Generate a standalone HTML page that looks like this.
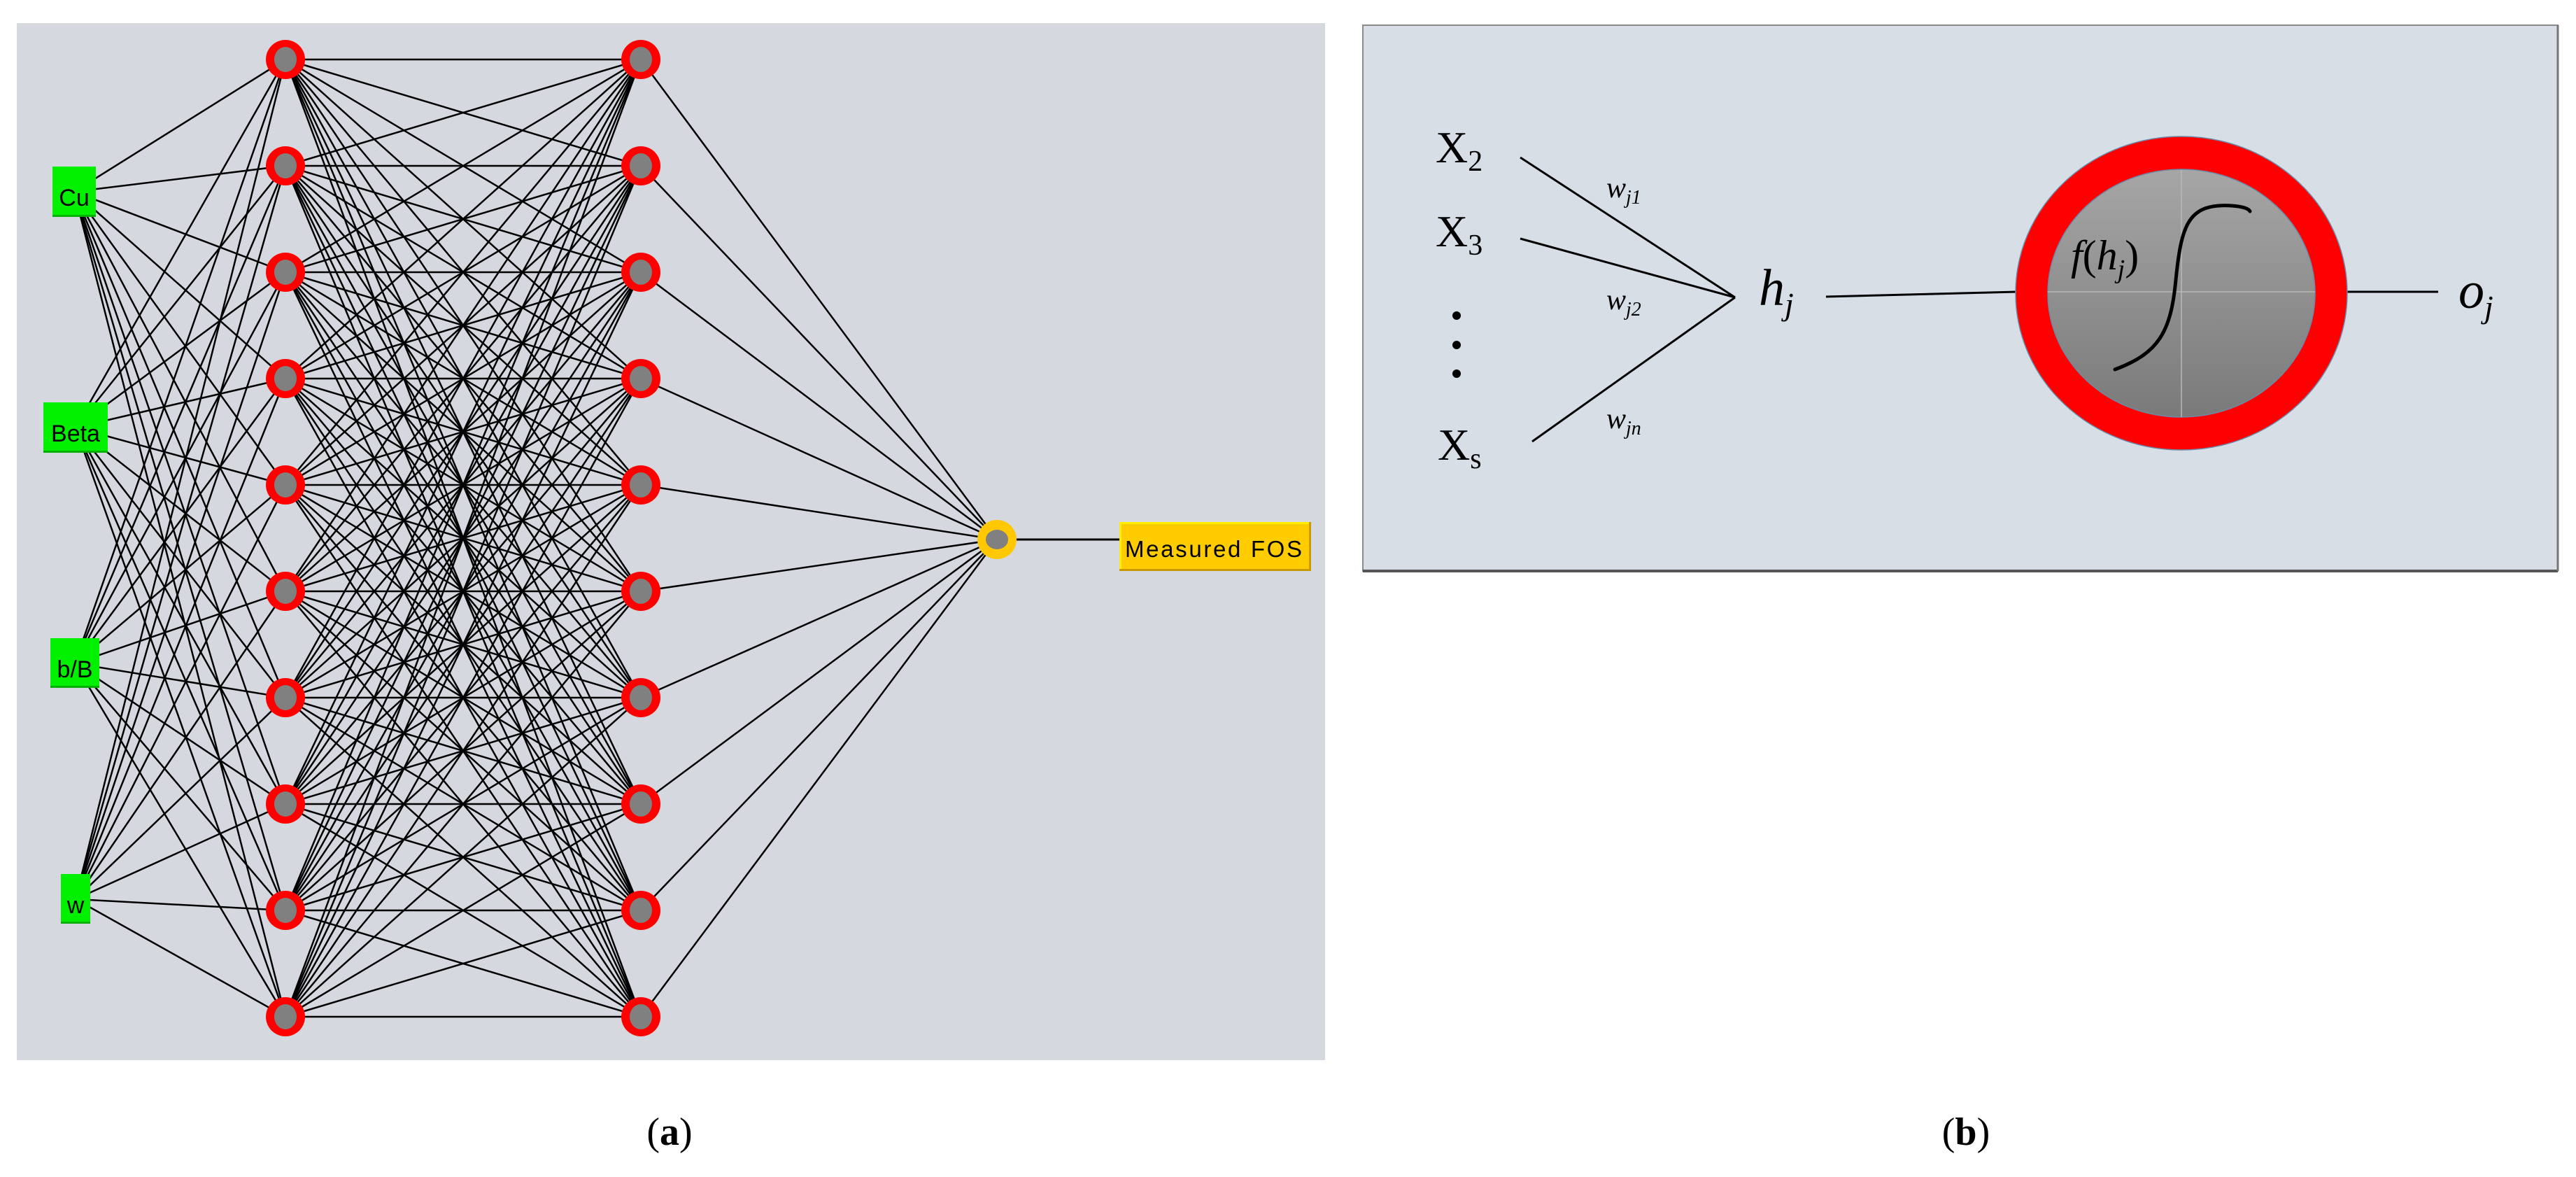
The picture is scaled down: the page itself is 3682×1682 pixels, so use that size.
<!DOCTYPE html>
<html><head><meta charset="utf-8"><style>
html,body{margin:0;padding:0;background:#fff;width:3682px;height:1682px;overflow:hidden}
svg{position:absolute;left:0;top:0}
</style></head><body>
<svg id="s" width="3682" height="1682" viewBox="0 0 3682 1682" xmlns="http://www.w3.org/2000/svg">
<defs>
<linearGradient id="g" x1="0" y1="0" x2="0" y2="1"><stop offset="0" stop-color="#a6a6a6"/><stop offset="1" stop-color="#7a7a7a"/></linearGradient>
</defs>
<rect x="24" y="33" width="1870" height="1482" fill="#d5d8df"/>
<g id="lines" stroke="#000" stroke-width="2.5" fill="none"></g>
<g id="nodes"></g>
<line x1="1453" y1="771" x2="1600" y2="771" stroke="#000" stroke-width="3"/>
<ellipse cx="1425" cy="771" rx="28" ry="28" fill="#ffc800"/>
<ellipse cx="1425" cy="771" rx="16" ry="14" fill="#808080"/>
<rect x="1600" y="746" width="274" height="70" fill="#ffcc00"/>
<rect x="1600" y="746" width="274" height="3" fill="#ffee00"/>
<rect x="1600" y="746" width="3" height="70" fill="#ffee00"/>
<rect x="1600" y="813" width="274" height="3" fill="#c99a00"/>
<rect x="1871" y="746" width="3" height="70" fill="#c99a00"/>
<text x="1608" y="796" font-family="Liberation Sans, sans-serif" font-size="33" letter-spacing="2" textLength="255" lengthAdjust="spacing" fill="#000">Measured FOS</text>
<g font-family="Liberation Sans, sans-serif" font-size="34" fill="#000" text-anchor="middle">
<rect x="75" y="238" width="62" height="72" fill="#00f000"/><rect x="75" y="307" width="62" height="3" fill="#00b000"/><text x="106" y="294">Cu</text>
<rect x="62" y="575" width="92" height="72" fill="#00f000"/><rect x="62" y="644" width="92" height="3" fill="#00b000"/><text x="108" y="631">Beta</text>
<rect x="72" y="912" width="70" height="71" fill="#00f000"/><rect x="72" y="980" width="70" height="3" fill="#00b000"/><text x="107" y="968">b/B</text>
<rect x="87" y="1249" width="42" height="71" fill="#00f000"/><rect x="87" y="1317" width="42" height="3" fill="#00b000"/><text x="108" y="1305">w</text>
</g>
<rect x="1948" y="36" width="1708" height="780" fill="#d7dee6" stroke="#8a8a8a" stroke-width="2"/>
<line x1="1948" y1="816" x2="3656" y2="816" stroke="#555" stroke-width="4"/>
<line x1="3656" y1="36" x2="3656" y2="816" stroke="#777" stroke-width="3"/>
<g font-family="Liberation Serif, serif" fill="#000">
<text x="2052" y="232" font-size="64">X<tspan font-size="42" dy="12">2</tspan></text>
<text x="2052" y="352" font-size="64">X<tspan font-size="42" dy="12">3</tspan></text>
<text x="2055" y="657" font-size="64">X<tspan font-size="42" dy="12">s</tspan></text>
<text x="2296" y="282" font-size="42" font-style="italic">w<tspan font-size="28" dy="9">j1</tspan></text>
<text x="2296" y="442" font-size="42" font-style="italic">w<tspan font-size="28" dy="9">j2</tspan></text>
<text x="2296" y="612" font-size="42" font-style="italic">w<tspan font-size="28" dy="9">jn</tspan></text>
<text x="2514" y="436" font-size="74" font-style="italic">h<tspan font-size="46" dy="14">j</tspan></text>
<text x="3514" y="440" font-size="74" font-style="italic">o<tspan font-size="46" dy="14">j</tspan></text>
</g>
<circle cx="2082" cy="451" r="6" fill="#000"/><circle cx="2082" cy="493" r="6" fill="#000"/><circle cx="2082" cy="534" r="6" fill="#000"/>
<g stroke="#000" stroke-width="3" fill="none">
<line x1="2173" y1="225" x2="2480" y2="425"/>
<line x1="2173" y1="341" x2="2480" y2="425"/>
<line x1="2190" y1="631" x2="2480" y2="425"/>
<line x1="2610" y1="424" x2="2883" y2="417"/>
<line x1="3355" y1="417" x2="3485" y2="417"/>
</g>
<ellipse cx="3118" cy="419" rx="237" ry="224" fill="#ff0000" stroke="#6a8aa8" stroke-width="1.5"/>
<ellipse cx="3118" cy="419" rx="191" ry="177" fill="url(#g)" stroke="#6a8aa8" stroke-width="1.5"/>
<line x1="2927" y1="417" x2="3309" y2="417" stroke="#b8b8b8" stroke-width="1.5"/>
<line x1="3118" y1="243" x2="3118" y2="596" stroke="#b8b8b8" stroke-width="1.5"/>
<path d="M3023 528 C3085 505 3103 475 3110 400 C3118 320 3128 290 3190 294 C3205 295 3214 298 3216 302" stroke="#000" stroke-width="5" fill="none" stroke-linecap="round"/>
<text x="2960" y="385" font-family="Liberation Serif, serif" font-style="italic" font-size="60" fill="#000">f<tspan font-style="normal">(</tspan>h<tspan font-size="38" dy="12">j</tspan><tspan font-style="normal" dy="-12">)</tspan></text>
<g font-family="Liberation Serif, serif" font-size="56" fill="#000" text-anchor="middle">
<text x="957" y="1636">(<tspan font-weight="bold">a</tspan>)</text>
<text x="2810" y="1636">(<tspan font-weight="bold">b</tspan>)</text>
</g>
</svg>
<script>
var NS="http://www.w3.org/2000/svg";
var L=document.getElementById("lines"),N=document.getElementById("nodes");
function ln(a,b,c,d){var e=document.createElementNS(NS,"line");e.setAttribute("x1",a);e.setAttribute("y1",b);e.setAttribute("x2",c);e.setAttribute("y2",d);L.appendChild(e);}
var ins=[[106,274],[108,611],[107,948],[108,1285]];
var ys=[];for(var i=0;i<10;i++)ys.push(85+152*i);
var x1=408,x2=916;
ins.forEach(function(p){ys.forEach(function(y){ln(p[0],p[1],x1,y);});});
ys.forEach(function(a){ys.forEach(function(b){ln(x1,a,x2,b);});});
ys.forEach(function(y){ln(x2,y,1425,771);});
function node(x,y){var c=document.createElementNS(NS,"ellipse");c.setAttribute("cx",x);c.setAttribute("cy",y);c.setAttribute("rx",28);c.setAttribute("ry",28);c.setAttribute("fill","#ff0000");N.appendChild(c);
var d=document.createElementNS(NS,"ellipse");d.setAttribute("cx",x);d.setAttribute("cy",y);d.setAttribute("rx",16);d.setAttribute("ry",18);d.setAttribute("fill","#808080");N.appendChild(d);}
ys.forEach(function(y){node(x1,y);node(x2,y);});
</script>
</body></html>
